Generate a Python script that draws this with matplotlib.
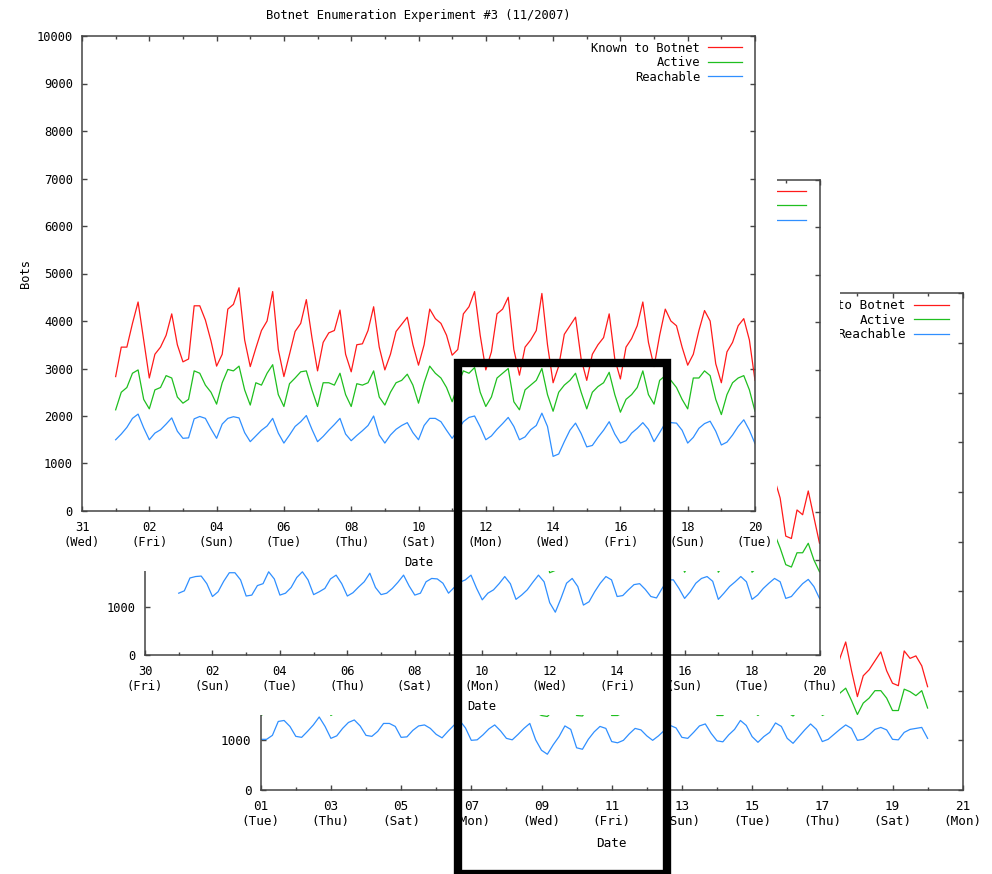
import numpy as np
import pandas as pd
import matplotlib
matplotlib.use('Agg')
import matplotlib.pyplot as plt
import matplotlib.dates as mdates
from matplotlib.patches import Rectangle
from matplotlib.ticker import FixedLocator

plt.rcParams['font.family'] = ['DejaVu Sans Mono', 'DejaVu Sans']

W, H = 992, 874

# --- 数据: 每4小时一个点 (0h,4h,8h,12h,16h,20h), 每行一天 ---
# 11/2007, 从 11-01 00:00 到 11-20 00:00
nov_known = [
    2830, 3450, 3450, 3950, 4400, 3600,
    2800, 3300, 3450, 3700, 4150, 3500,
    3140, 3200, 4320, 4320, 4020, 3580,
    3050, 3300, 4250, 4350, 4700, 3600,
    3040, 3430, 3800, 4000, 4620, 3400,
    2830, 3300, 3780, 3950, 4450, 3650,
    2950, 3550, 3750, 3800, 4230, 3300,
    2930, 3500, 3520, 3800, 4300, 3450,
    2970, 3300, 3780, 3930, 4080, 3500,
    3070, 3500, 4250, 4050, 3950, 3700,
    3280, 3400, 4150, 4300, 4620, 3700,
    2970, 3350, 4150, 4250, 4500, 3400,
    2860, 3450, 3600, 3800, 4580, 3500,
    2700, 3050, 3720, 3900, 4080, 3200,
    2750, 3300, 3500, 3650, 4150, 3200,
    2780, 3450, 3630, 3900, 4400, 3550,
    3040, 3700, 4250, 4000, 3900, 3450,
    3070, 3300, 3800, 4220, 4000, 3100,
    2700, 3350, 3550, 3900, 4050, 3600,
    2750]
nov_active = [
    2130, 2500, 2600, 2900, 2970, 2350,
    2150, 2550, 2600, 2850, 2800, 2400,
    2270, 2350, 2950, 2900, 2650, 2500,
    2250, 2700, 2980, 2950, 3050, 2550,
    2230, 2700, 2650, 2900, 3080, 2450,
    2200, 2680, 2800, 2930, 2950, 2550,
    2200, 2700, 2700, 2650, 2900, 2450,
    2200, 2680, 2650, 2700, 2950, 2400,
    2230, 2500, 2700, 2750, 2880, 2650,
    2270, 2700, 3050, 2900, 2800, 2600,
    2300, 2650, 2950, 2900, 3020, 2500,
    2200, 2400, 2800, 2900, 3000, 2300,
    2130, 2550, 2650, 2750, 3000, 2450,
    2100, 2500, 2650, 2750, 2900, 2500,
    2150, 2500, 2620, 2700, 2920, 2450,
    2080, 2350, 2450, 2600, 2950, 2450,
    2250, 2750, 2850, 2750, 2600, 2350,
    2150, 2800, 2800, 2950, 2850, 2350,
    2030, 2450, 2700, 2800, 2850, 2550,
    2100]
nov_reach = [
    1500, 1620, 1760, 1950, 2040, 1750,
    1500, 1640, 1710, 1830, 1960, 1680,
    1530, 1540, 1940, 1990, 1950, 1730,
    1530, 1830, 1950, 1985, 1960, 1650,
    1460, 1580, 1700, 1790, 1950, 1640,
    1430, 1600, 1780, 1880, 2010, 1720,
    1460, 1570, 1700, 1820, 1950, 1620,
    1480, 1590, 1690, 1800, 2000, 1600,
    1430, 1600, 1720, 1800, 1860, 1650,
    1500, 1800, 1950, 1950, 1880, 1700,
    1530, 1700, 1880, 1970, 2000, 1770,
    1500, 1580, 1720, 1840, 1970, 1780,
    1500, 1560, 1710, 1800, 2060, 1780,
    1150, 1200, 1460, 1700, 1850, 1630,
    1350, 1380, 1550, 1700, 1880, 1620,
    1430, 1480, 1640, 1740, 1860, 1720,
    1460, 1650, 1850, 1860, 1850, 1700,
    1430, 1550, 1740, 1840, 1890, 1680,
    1390, 1450, 1600, 1780, 1920, 1700,
    1420]

# 12/2007, 从 12-01 00:00 到 12-20 00:00
dec_known = [
    2400, 2700, 3100, 3300, 3450, 3000,
    2350, 2600, 3050, 3400, 3500, 3100,
    2400, 2500, 2950, 3100, 3550, 3150,
    2450, 2550, 2850, 3300, 3550, 3100,
    2450, 2600, 2800, 3200, 3400, 2950,
    2400, 2550, 2850, 3100, 3450, 2850,
    2450, 2550, 2800, 3050, 3400, 2900,
    2400, 2550, 3050, 3200, 3200, 3000,
    2500, 2800, 3050, 3150, 3400, 2800,
    2300, 2600, 2750, 3000, 3300, 3000,
    2300, 2500, 2750, 3050, 3400, 3100,
    2150, 1900, 2450, 3000, 3250, 2850,
    2100, 2250, 2650, 3000, 3300, 3150,
    2400, 2500, 2750, 2950, 3000, 2750,
    2400, 2400, 2800, 3150, 3150, 2800,
    2300, 2650, 3000, 3200, 3300, 3100,
    2300, 2600, 2900, 3100, 3300, 3050,
    2300, 2500, 2800, 3050, 3700, 3300,
    2500, 2450, 3050, 2950, 3450, 2900,
    2350]
dec_active = [
    1900, 2050, 2300, 2400, 2450, 2200,
    1850, 2000, 2250, 2450, 2500, 2250,
    1850, 1900, 2150, 2250, 2500, 2300,
    1900, 1950, 2100, 2350, 2500, 2250,
    1900, 1950, 2100, 2300, 2400, 2150,
    1850, 1950, 2100, 2250, 2450, 2100,
    1900, 1950, 2100, 2200, 2400, 2150,
    1850, 1950, 2200, 2300, 2300, 2200,
    1900, 2050, 2200, 2250, 2400, 2050,
    1800, 1950, 2000, 2150, 2350, 2200,
    1800, 1900, 2000, 2200, 2400, 2250,
    1730, 1780, 1900, 2150, 2300, 2050,
    1800, 1850, 2000, 2150, 2350, 2250,
    1850, 1900, 2000, 2150, 2150, 2000,
    1850, 1850, 2050, 2250, 2250, 2050,
    1740, 1950, 2150, 2300, 2350, 2200,
    1740, 1900, 2100, 2200, 2350, 2200,
    1740, 1850, 2050, 2200, 2550, 2250,
    1900, 1850, 2150, 2150, 2350, 2000,
    1750]
dec_reach = [
    1300, 1350, 1620, 1650, 1660, 1500,
    1230, 1330, 1550, 1730, 1730, 1580,
    1240, 1260, 1460, 1500, 1750, 1600,
    1260, 1300, 1420, 1630, 1750, 1580,
    1270, 1330, 1400, 1600, 1680, 1500,
    1240, 1310, 1430, 1540, 1720, 1420,
    1270, 1300, 1400, 1530, 1680, 1450,
    1260, 1300, 1540, 1610, 1600, 1510,
    1300, 1420, 1530, 1580, 1680, 1400,
    1160, 1300, 1370, 1500, 1650, 1500,
    1170, 1260, 1370, 1530, 1680, 1540,
    1100, 900, 1190, 1510, 1610, 1440,
    1050, 1120, 1330, 1510, 1650, 1580,
    1230, 1250, 1370, 1480, 1500, 1380,
    1230, 1200, 1400, 1580, 1580, 1400,
    1190, 1330, 1510, 1610, 1650, 1550,
    1170, 1300, 1440, 1540, 1650, 1540,
    1170, 1260, 1400, 1510, 1610, 1540,
    1190, 1230, 1370, 1500, 1590, 1440,
    1190]

# 01/2008, 从 01-01 00:00 到 01-20 00:00
jan_known = [
    2000, 2000, 2200, 2750, 2800, 2500,
    2100, 2050, 2300, 2600, 2900, 2500,
    2050, 2150, 2450, 2700, 2800, 2550,
    2150, 2100, 2300, 2650, 2650, 2500,
    2100, 2100, 2350, 2550, 2600, 2450,
    2200, 2050, 2300, 2550, 2750, 2450,
    1950, 2000, 2200, 2450, 2600, 2350,
    2050, 2000, 2200, 2450, 2650, 2000,
    1700, 1600, 1900, 2150, 2550, 2400,
    1750, 1700, 2050, 2300, 2550, 2450,
    1950, 1900, 2000, 2250, 2450, 2400,
    2150, 2000, 2150, 2400, 2600, 2450,
    2100, 2050, 2300, 2550, 2650, 2250,
    1950, 1950, 2200, 2400, 2750, 2550,
    2100, 1900, 2100, 2300, 2650, 2500,
    2050, 1850, 2100, 2400, 2600, 2400,
    1950, 2050, 2250, 2650, 2980, 2400,
    1880, 2300, 2420, 2600, 2780, 2400,
    2150, 2100, 2800, 2650, 2700, 2500,
    2080]
jan_active = [
    1500, 1560, 1650, 1950, 2000, 1800,
    1600, 1560, 1700, 1850, 2050, 1800,
    1500, 1580, 1750, 1900, 1950, 1800,
    1600, 1580, 1700, 1900, 1900, 1800,
    1560, 1570, 1700, 1850, 1850, 1750,
    1620, 1550, 1700, 1850, 1950, 1750,
    1540, 1540, 1650, 1800, 1850, 1700,
    1560, 1550, 1650, 1800, 1900, 1560,
    1500, 1480, 1600, 1750, 1900, 1800,
    1500, 1490, 1650, 1800, 1900, 1820,
    1500, 1500, 1560, 1700, 1850, 1800,
    1620, 1550, 1650, 1800, 1900, 1800,
    1600, 1560, 1700, 1850, 1900, 1700,
    1500, 1500, 1650, 1800, 1950, 1850,
    1600, 1500, 1600, 1750, 1900, 1800,
    1560, 1490, 1600, 1800, 1900, 1800,
    1500, 1560, 1700, 1950, 2050, 1800,
    1520, 1750, 1850, 2000, 2000, 1850,
    1600, 1600, 2030, 1980, 1900, 2000,
    1650]
jan_reach = [
    1020, 1020, 1100, 1380, 1400, 1280,
    1080, 1060, 1180, 1310, 1470, 1280,
    1040, 1090, 1240, 1360, 1410, 1290,
    1100, 1080, 1180, 1340, 1340, 1280,
    1060, 1070, 1200, 1290, 1310, 1240,
    1120, 1050, 1180, 1300, 1400, 1250,
    1000, 1010, 1110, 1230, 1310, 1190,
    1040, 1010, 1120, 1240, 1340, 1010,
    800, 720, 910, 1075, 1290, 1220,
    850, 820, 1020, 1170, 1280, 1240,
    975, 950, 1000, 1130, 1240, 1210,
    1090, 1000, 1090, 1200, 1300, 1250,
    1060, 1040, 1160, 1290, 1330, 1140,
    990, 970, 1110, 1220, 1400, 1300,
    1075, 960, 1075, 1160, 1350, 1280,
    1040, 940, 1075, 1210, 1330, 1220,
    975, 1020, 1120, 1220, 1310, 1240,
    1000, 1020, 1110, 1220, 1260, 1210,
    1020, 1010, 1160, 1220, 1240, 1260,
    1040]

labels = ['Known to Botnet', 'Active', 'Reachable']
colors = ['#ff1a1a', '#1fbf1f', '#2f8fff']
FRAME = '#444444'
FS = 8.7

fig = plt.figure(figsize=(W / 100, H / 100), dpi=100, facecolor='white')


def px_rect(x0, y0, w, h):
    return [x0 / W, 1 - (y0 + h) / H, w / W, h / H]


def draw_chart(box, z, xlim, t0, series, title=None, k=1.0, ylab_max=10000):
    ax = fig.add_axes(px_rect(*box), zorder=z)
    ax.set_facecolor('white')
    t = pd.date_range(t0, periods=len(series[0]), freq='4h')
    for vals, lab, c in zip(series, labels, colors):
        ax.plot(t, vals, color=c, lw=0.9, label=lab)
    x0, x1 = pd.Timestamp(xlim[0]), pd.Timestamp(xlim[1])
    ax.set_xlim(x0, x1)
    ax.set_ylim(0, 10000)
    yt = np.arange(0, 10001, 1000)
    ax.set_yticks(yt)
    # 被前面的图挡住的刻度文字不画
    ax.set_yticklabels([str(v) if v <= ylab_max else '' for v in yt])
    ax.xaxis.set_major_locator(FixedLocator(mdates.date2num(pd.date_range(x0, x1, freq='2D'))))
    ax.xaxis.set_minor_locator(FixedLocator(mdates.date2num(pd.date_range(x0, x1, freq='D'))))
    ax.xaxis.set_major_formatter(mdates.DateFormatter('%d\n(%a)'))
    ax.tick_params(which='both', direction='in', top=True, right=True,
                   color=FRAME, width=1.0, labelsize=FS * k)
    ax.tick_params(which='major', length=3.6 * k)
    ax.tick_params(which='minor', length=2.0 * k)
    ax.tick_params(axis='y', pad=6.5 * k)
    ax.tick_params(axis='x', pad=7.0 * k)
    for s in ax.spines.values():
        s.set_color(FRAME)
        s.set_linewidth(1.1)
    w_px, h_px = box[2], box[3]
    ax.text(0.5, -51 * k / h_px, 'Date', transform=ax.transAxes,
            ha='center', va='center', fontsize=FS * k)
    if title:
        # 后面两张图的标题和 Bots 被挡住, 只画最前面那张
        ax.text(-57 * k / w_px, 0.5, 'Bots', transform=ax.transAxes, rotation=90,
                ha='center', va='center', fontsize=FS * k)
        ax.text(0.5, 1 + 21 * k / h_px, title, transform=ax.transAxes,
                ha='center', va='center', fontsize=FS * k)
    ax.legend(loc='upper right', bbox_to_anchor=(0.9807, 0.9884), frameon=False,
              markerfirst=False, handlelength=2.8, handletextpad=0.66,
              labelspacing=0.13, borderpad=0, borderaxespad=0, fontsize=FS * k)
    return ax


def panel(x0, y0, w, h, z):
    fig.add_artist(Rectangle((x0 / W, 1 - (y0 + h) / H), w / W, h / H,
                             transform=fig.transFigure, facecolor='white',
                             edgecolor='none', zorder=z))


# 最后面: 01/2008
draw_chart((260.7, 293.3, 702, 496.7), 1, ('2008-01-01', '2008-01-21'), '2008-01-01',
           [jan_known, jan_active, jan_reach], k=1.043, ylab_max=1000)
# 中间: 12/2007
panel(63, 144, 777, 571, 2.5)
draw_chart((145, 179.5, 674.5, 475.5), 3, ('2007-11-30', '2007-12-20'), '2007-12-01',
           [dec_known, dec_active, dec_reach], ylab_max=1000)
# 最前面: 11/2007
panel(0, 0, 777, 571, 4.5)
draw_chart((82, 36, 673, 475), 5, ('2007-10-31', '2007-11-20'), '2007-11-01',
           [nov_known, nov_active, nov_reach], 'Botnet Enumeration Experiment #3 (11/2007)')

# 黑色框
fig.add_artist(Rectangle((457.5 / W, 1 - 873.5 / H), 209 / W, (873.5 - 362.7) / H,
                         transform=fig.transFigure, facecolor='none', edgecolor='black',
                         linewidth=6.0, joinstyle='miter', zorder=10))

fig.savefig('out.png', dpi=100, facecolor='white')
